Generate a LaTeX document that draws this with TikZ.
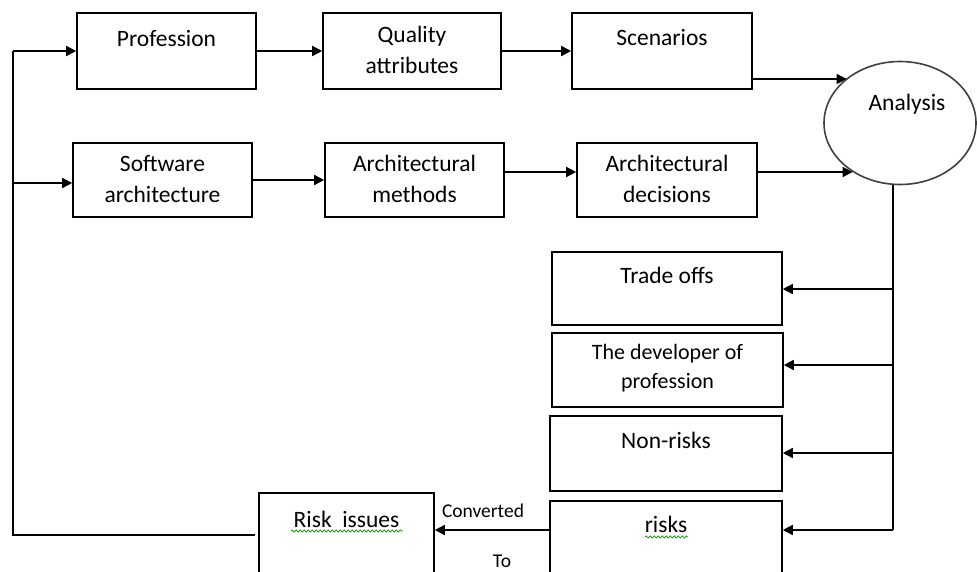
\documentclass[tikz,border=0pt]{standalone}
\usepackage{fontspec}
\setmainfont{Carlito}
\usetikzlibrary{arrows.meta,shapes.geometric,decorations.pathmorphing}

\tikzset{
  box/.style={draw, line width=1.6pt, inner sep=0pt},
  lbl/.style={inner sep=0pt, anchor=north, align=center,
    font=\fontsize{23.5}{31}\selectfont,
    execute at begin node={\rule{0pt}{20pt}}},
  smalllbl/.style={lbl, font=\fontsize{22}{29}\selectfont},
  note/.style={inner sep=0pt, anchor=base, font=\fontsize{19.5}{23}\selectfont},
  wire/.style={line width=1.6pt},
  arr/.style={wire, -{Triangle[length=10pt,width=10pt]}},
  squiggle/.style={draw=green!60!black, line width=0.7pt,
    decorate, decoration={snake, segment length=4pt, amplitude=1.1pt}}
}

\begin{document}
\begin{tikzpicture}[x=1pt, y=-1pt]
\useasboundingbox (0,0) rectangle (977,571);
\clip (0,0) rectangle (977,571);

% first row
\node[box, minimum width=179pt, minimum height=76pt] (prof) at (166.5,51) {};
\node[box, minimum width=178pt, minimum height=76pt] (qa)   at (412,51) {};
\node[box, minimum width=180pt, minimum height=76pt] (sc)   at (662,51) {};
\node[lbl] (proft) at (166.5,26) {Profession};
\node[lbl] (qat)   at (412,26) {Quality\\attributes};
\node[lbl] (sct)   at (662,25) {Scenarios};

% second row
\node[box, minimum width=179pt, minimum height=74pt] (sa) at (162.5,180) {};
\node[box, minimum width=179pt, minimum height=74pt] (am) at (414.5,180) {};
\node[box, minimum width=180pt, minimum height=74pt] (ad) at (667,180) {};
\node[lbl] (sat) at (162.5,155) {Software\\architecture};
\node[lbl] (amt) at (414.5,155) {Architectural\\methods};
\node[lbl] (adt) at (667,155) {Architectural\\decisions};

% analysis
\node[ellipse, draw=black!75, line width=1.6pt, inner sep=0pt,
      minimum width=152pt, minimum height=123pt] (ana) at (900,123) {};
\node[lbl] (anat) at (907,90) {Analysis};

% outcomes
\node[box, minimum width=230pt, minimum height=73pt] (tro) at (667,288.5) {};
\node[box, minimum width=231pt, minimum height=74pt] (dev) at (667.5,370) {};
\node[box, minimum width=232pt, minimum height=75pt] (nr)  at (666,453.5) {};
\node[box, minimum width=232pt, minimum height=99pt] (rk)  at (666,550.5) {};
\node[box, minimum width=175pt, minimum height=84pt] (ri)  at (346.5,535) {};
\node[lbl] (trot) at (667,263) {Trade offs};
\node[smalllbl] (devt) at (667.5,344) {The developer of\\profession};
\node[lbl] (nrt) at (666,428) {Non-risks};
\node[lbl] (rkt) at (666,512) {risks};
\node[lbl] (rit) at (346.5,507) {Risk\ \ issues};
\node[note] (conv) at (483,517) {Converted};
\node[note] (to)   at (502,567) {To};

% spelling marks under the risk labels
\draw[squiggle] (291,531) -- (403,531);
\draw[squiggle] (645,537) -- (688,537);

% flow along the rows
\draw[arr] (prof) -- (qa);
\draw[arr] (qa) -- (sc);
\draw[arr] ([yshift=-28pt]sc.east) -- ([yshift=-28pt]sc.east -| ana.140.8);
\draw[arr] (sa) -- (am);
\draw[arr] ([yshift=8pt]am.east) -- ([yshift=8pt]am.east -| ad.west);
\draw[arr] ([yshift=8pt]ad.east) -- ([yshift=8pt]ad.east -| ana.226);

% analysis bus down the right side
\coordinate (top) at ([xshift=-7pt]ana.south);
\coordinate (b1) at (893,289);
\coordinate (b2) at (893,365);
\coordinate (b3) at (893,453);
\coordinate (b4) at (893,530);
\draw[wire] (top) -- (b4);
\draw[arr] (b1) -- (b1 -| tro.east);
\draw[arr] (b2) -- (b2 -| dev.east);
\draw[arr] (b3) -- (b3 -| nr.east);
\draw[arr] (b4) -- (b4 -| rk.east);

% risks are converted to risk issues
\draw[arr] (b4 -| rk.west) -- (b4 -| ri.east);

% feedback loop on the left
\coordinate (lb) at (13,535);
\coordinate (lt) at (13,51);
\coordinate (lm) at (13,183);
\draw[wire] ([xshift=-3pt]ri.west) -- (lb) -- (lt);
\draw[arr] (lt) -- (prof.west);
\draw[arr] (lm) -- (lm -| sa.west);
\end{tikzpicture}
\end{document}
